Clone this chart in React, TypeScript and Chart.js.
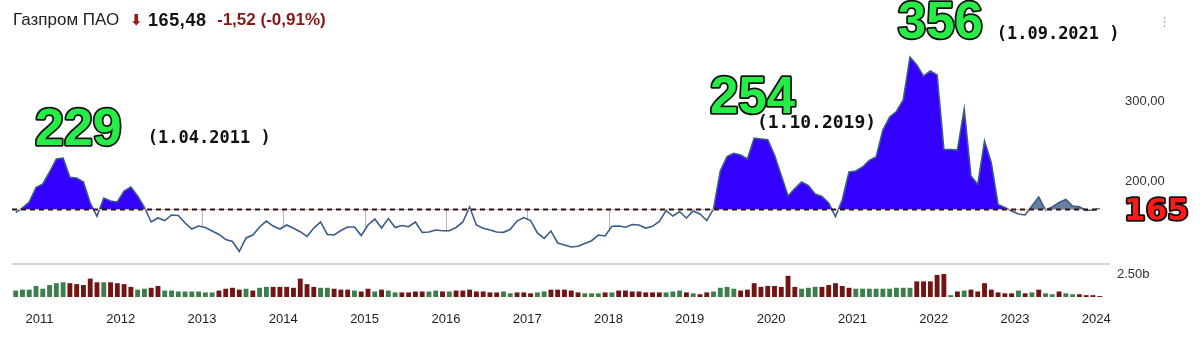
import React, { useEffect, useRef } from "react";
import { Chart, registerables } from "chart.js";

Chart.register(...registerables);

// months are counted from Jan 2011 (0); points sit mid-month; first point = Sep 2010
const FIRST_MONTH = -3.5;
const BASE_PRICE = 165;
const BLUE_LAST = 146; // last point of the hand-painted blue zone (Nov 2022)

const prices: number[] = [
  160.4, 166.5, 173.8, 192.0,
  196.4, 211.5, 227.8, 229.0, 205.0, 204.0, 199.0, 172.5, 156.0, 178.8, 175.0, 173.8,
  187.6, 192.6, 181.3, 167.0, 148.7, 153.7, 150.5, 157.5, 156.8, 147.4, 139.9, 143.6,
  141.8, 137.4, 133.0, 126.7, 124.2, 111.6, 128.6, 132.3, 142.4, 149.9, 143.6, 139.9,
  144.9, 140.8, 136.5, 130.5, 141.1, 148.7, 133.0, 132.3, 138.0, 142.4, 142.4, 131.7,
  144.9, 152.4, 141.1, 153.0, 141.8, 144.3, 142.8, 148.7, 135.5, 136.1, 138.6, 137.7,
  137.7, 141.8, 148.7, 167.5, 144.9, 140.8, 138.6, 136.1, 135.7, 139.5, 149.9, 154.3,
  150.5, 134.9, 128.2, 137.4, 122.3, 119.8, 117.3, 118.3, 121.7, 125.2, 132.3, 131.1,
  143.4, 143.6, 142.1, 145.5, 144.9, 141.1, 143.3, 149.3, 162.9, 156.2, 161.6, 153.7,
  162.5, 158.7, 150.5, 165.0, 212.7, 230.9, 235.0, 232.8, 227.8, 254.0, 253.0, 252.0,
  232.8, 207.0, 181.3, 190.7, 198.9, 194.5, 183.8, 180.7, 172.5, 155.6, 176.3, 211.5,
  212.7, 217.8, 226.2, 230.3, 264.2, 280.5, 287.5, 302.0, 356.0, 346.0, 332.0, 338.3,
  333.3, 240.0, 239.7, 239.0, 290.6, 206.4, 195.8, 250.4, 222.8, 170.7, 166.9, 162.5,
  158.7, 157.5, 168.8, 180.1, 163.7, 167.5, 173.2, 176.9, 168.8, 167.9, 163.1, 163.7,
  165.5,
];

// monthly volume, billions of shares
const volumes: number[] = [
  0.7, 0.8, 0.8, 1.2,
  0.9, 1.3, 1.5, 1.6, 1.5, 1.4, 1.3, 2.0, 1.6, 1.6, 1.6, 1.5,
  1.4, 1.1, 0.8, 0.9, 1.0, 1.2, 0.7, 0.7, 0.6, 0.6, 0.6, 0.6,
  0.5, 0.5, 0.7, 0.9, 1.0, 0.8, 0.9, 0.7, 1.0, 1.1, 1.1, 1.1,
  1.1, 1.0, 2.0, 1.4, 1.1, 1.0, 1.0, 0.9, 0.8, 0.8, 0.7, 0.6,
  0.9, 0.6, 0.8, 0.7, 0.5, 0.5, 0.5, 0.6, 0.6, 0.6, 0.7, 0.6,
  0.6, 0.7, 0.7, 0.8, 0.6, 0.6, 0.5, 0.5, 0.6, 0.4, 0.5, 0.5,
  0.4, 0.5, 0.6, 0.8, 0.8, 0.8, 0.7, 0.5, 0.4, 0.4, 0.4, 0.5,
  0.5, 0.7, 0.7, 0.6, 0.6, 0.5, 0.5, 0.5, 0.5, 0.6, 0.7, 0.5,
  0.4, 0.3, 0.5, 0.6, 1.0, 1.1, 0.9, 0.7, 0.8, 1.5, 1.1, 1.2,
  1.2, 1.1, 2.3, 1.1, 0.9, 1.0, 1.1, 1.1, 1.3, 1.5, 1.2, 1.0,
  0.9, 0.9, 0.9, 0.9, 0.9, 0.9, 1.0, 1.0, 1.0, 1.7, 1.7, 1.7,
  2.4, 2.5, 0.2, 0.6, 0.7, 0.8, 0.6, 1.5, 0.8, 0.5, 0.4, 0.4,
  0.7, 0.4, 0.5, 0.8, 0.4, 0.3, 0.6, 0.4, 0.3, 0.3, 0.2, 0.2,
  0.1,
];

// G = up month (green), R = down month (red)
const volumeDirection: string[] = (
  "GGGG" +
  "GGGGRRRRRGRR" +
  "RRGGRRGGGGGG" +
  "GGRRRRGRGGRR" +
  "RRRRRGGRRRGR" +
  "RGRGGRRRRGGR" +
  "GRRRRRRRGGRR" +
  "RGGRRRRRGGGR" +
  "GRRRRRRRGGGR" +
  "GRRGGGGRRRRR" +
  "RRRRGGGRRRRR" +
  "GGGGGGGGGRRR" +
  "RRGRGRRRRRRR" +
  "GRGRGGRGGRRR" +
  "R"
).split("");

const yearTicks: number[] = [2011, 2012, 2013, 2014, 2015, 2016, 2017, 2018, 2019, 2020, 2021, 2022, 2023, 2024];
const priceTicks: number[] = [200, 300];
const volumeTicks: number[] = [2.5];

type Note = { text: string; month: number; price: number; font: string; fill: string; stroke?: string };
const notes: Note[] = [
  { text: "229", month: -0.65, price: 245.4, font: "bold 52px 'Liberation Sans'", fill: "#26ec46", stroke: "#111" },
  { text: "(1.04.2011 )", month: 16.0, price: 247.5, font: "bold 17px 'DejaVu Sans Mono'", fill: "#111" },
  { text: "254", month: 98.98, price: 285.6, font: "bold 51px 'Liberation Sans'", fill: "#26ec46", stroke: "#111" },
  { text: "(1.10.2019)", month: 105.9, price: 267.0, font: "bold 18px 'DejaVu Sans Mono'", fill: "#111" },
  { text: "356", month: 126.7, price: 379.8, font: "bold 51px 'Liberation Sans'", fill: "#26ec46", stroke: "#111" },
  { text: "(1.09.2021 )", month: 141.3, price: 378.3, font: "bold 17px 'DejaVu Sans Mono'", fill: "#111" },
  { text: "165", month: 160.1, price: 151.2, font: "bold 31px 'DejaVu Sans'", fill: "#ff1a1a", stroke: "#111" },
];

const monthOf = (i: number) => FIRST_MONTH + i;

function priceAt(month: number): number | null {
  const f = month - FIRST_MONTH;
  const i = Math.floor(f);
  if (i < 0 || i >= prices.length - 1) return null;
  const t = f - i;
  return prices[i] * (1 - t) + prices[i + 1] * t;
}

const overlay = {
  id: "overlay",
  beforeDatasetsDraw(chart: any) {
    const { ctx, chartArea, scales } = chart;
    const x = scales.x, y = scales.y, yv = scales.yv;
    ctx.save();
    // pane separator
    const sep = Math.round(yv.getPixelForValue(3.6));
    ctx.strokeStyle = "#d3d3d3";
    ctx.lineWidth = 2;
    ctx.beginPath();
    ctx.moveTo(chartArea.left, sep);
    ctx.lineTo(chartArea.right, sep);
    ctx.stroke();
    // year grid segments between baseline and curve
    ctx.strokeStyle = "#b5b5b5";
    ctx.lineWidth = 1;
    for (const yr of yearTicks) {
      const m = (yr - 2011) * 12;
      const v = priceAt(m);
      if (v == null || v > BASE_PRICE - 4) continue;
      const px = Math.round(x.getPixelForValue(m)) + 0.5;
      ctx.beginPath();
      ctx.moveTo(px, y.getPixelForValue(BASE_PRICE));
      ctx.lineTo(px, y.getPixelForValue(v));
      ctx.stroke();
    }
    ctx.restore();
  },
  afterDatasetsDraw(chart: any) {
    const { ctx, chartArea, scales } = chart;
    const x = scales.x, y = scales.y;
    const y0 = Math.round(y.getPixelForValue(BASE_PRICE)) + 0.5;
    const x0 = chartArea.left;
    const x1 = x.getPixelForValue(monthOf(prices.length - 1));
    ctx.save();
    ctx.strokeStyle = "#f3a3a3";
    ctx.lineWidth = 1;
    ctx.beginPath();
    ctx.moveTo(x0, y0);
    ctx.lineTo(x1, y0);
    ctx.stroke();
    ctx.strokeStyle = "#1b1b1b";
    ctx.lineWidth = 2;
    ctx.setLineDash([5, 4]);
    ctx.beginPath();
    ctx.moveTo(x0, y0);
    ctx.lineTo(x1, y0);
    ctx.stroke();
    ctx.restore();
  },
  afterDraw(chart: any) {
    const { ctx, chartArea, scales } = chart;
    const x = scales.x, y = scales.y, yv = scales.yv;
    ctx.save();
    // volume axis label
    ctx.font = "13px 'Liberation Sans'";
    ctx.fillStyle = "#333";
    ctx.textAlign = "left";
    ctx.textBaseline = "middle";
    for (const v of volumeTicks) {
      ctx.fillText(v.toFixed(2) + "b", chartArea.right + 7, yv.getPixelForValue(v));
    }
    ctx.textBaseline = "alphabetic";
    ctx.lineJoin = "round";
    for (const n of notes) {
      ctx.font = n.font;
      const px = x.getPixelForValue(n.month);
      const py = y.getPixelForValue(n.price);
      if (n.stroke) {
        ctx.strokeStyle = n.stroke;
        ctx.lineWidth = 3.5;
        ctx.strokeText(n.text, px, py);
      }
      ctx.fillStyle = n.fill;
      ctx.fillText(n.text, px, py);
    }
    ctx.restore();
  },
};

export default function App() {
  const ref = useRef<HTMLCanvasElement | null>(null);

  useEffect(() => {
    if (!ref.current) return;
    Chart.defaults.font.family = "'Liberation Sans', Arial, sans-serif";
    const pts = prices.map((v, i) => ({ x: monthOf(i), y: v }));
    const chart = new Chart(ref.current, {
      type: "line",
      data: {
        datasets: [
          {
            type: "line",
            data: pts,
            borderColor: "#3b5c88",
            borderWidth: 1.6,
            pointRadius: 0,
            fill: false,
            tension: 0,
            order: 0,
          } as any,
          {
            type: "line",
            data: prices.map((v, i) => ({ x: monthOf(i), y: i <= BLUE_LAST ? v : null })),
            borderColor: "rgba(0,0,0,0)",
            borderWidth: 0,
            pointRadius: 0,
            tension: 0,
            fill: { target: { value: BASE_PRICE }, above: "#3300ff", below: "rgba(0,0,0,0)" },
            order: 1,
          } as any,
          {
            type: "line",
            data: prices.map((v, i) => ({ x: monthOf(i), y: i >= BLUE_LAST ? v : null })),
            borderColor: "rgba(0,0,0,0)",
            borderWidth: 0,
            pointRadius: 0,
            tension: 0,
            fill: { target: { value: BASE_PRICE }, above: "#66809e", below: "rgba(0,0,0,0)" },
            order: 2,
          } as any,
          {
            type: "bar",
            yAxisID: "yv",
            data: volumes.map((v, i) => ({ x: monthOf(i), y: v })),
            backgroundColor: volumeDirection.map((d) => (d === "G" ? "#3c7f4c" : "#731414")),
            borderWidth: 0,
            barPercentage: 0.72,
            categoryPercentage: 1,
            order: 3,
          } as any,
        ],
      },
      options: {
        animation: false,
        responsive: false,
        maintainAspectRatio: false,
        events: [],
        layout: { padding: { left: 12, top: 30, right: 0, bottom: 0 } },
        plugins: { legend: { display: false }, tooltip: { enabled: false } },
        scales: {
          x: {
            type: "linear",
            offset: false,
            min: -4.044,
            max: 158.02,
            grid: { display: false, offset: false },
            border: { display: false },
            afterBuildTicks: (s: any) => {
              s.ticks = yearTicks.map((yr) => ({ value: (yr - 2011) * 12 }));
            },
            afterFit: (s: any) => {
              s.height = 46;
            },
            ticks: {
              autoSkip: false,
              maxRotation: 0,
              padding: 7,
              color: "#1e1e1e",
              font: { size: 13 },
              callback: (v: any) => String(2011 + Math.round(Number(v) / 12)),
            },
          },
          y: {
            type: "linear",
            position: "right",
            min: 54.45,
            max: 389.9,
            grid: { display: false },
            border: { display: false },
            afterBuildTicks: (s: any) => {
              s.ticks = priceTicks.map((v) => ({ value: v }));
            },
            afterFit: (s: any) => {
              s.width = 90;
            },
            ticks: {
              padding: 7,
              color: "#333",
              font: { size: 13 },
              callback: (v: any) => Number(v).toFixed(2).replace(".", ","),
            },
          },
          yv: {
            type: "linear",
            position: "left",
            display: false,
            min: 0,
            max: 29.02,
          },
        },
      } as any,
      plugins: [overlay],
    });
    return () => chart.destroy();
  }, []);

  const head: React.CSSProperties = {
    position: "absolute",
    top: 10,
    lineHeight: "20px",
    whiteSpace: "nowrap",
    fontFamily: "'Liberation Sans', Arial, sans-serif",
  };

  return (
    <div style={{ position: "fixed", left: 0, top: 0, width: 1200, height: 343, background: "#fff", overflow: "hidden" }}>
      <canvas ref={ref} width={1200} height={343} style={{ position: "absolute", left: 0, top: 0, width: 1200, height: 343 }} />
      <span style={{ ...head, left: 13, fontSize: 17, color: "#222" }}>Газпром ПАО</span>
      <span style={{ ...head, left: 130, fontSize: 15, fontWeight: "bold", color: "#9b1a1a", fontFamily: "'DejaVu Sans'", top: 10 }}>⬇</span>
      <span style={{ ...head, left: 148, fontSize: 18, fontWeight: "bold", color: "#111", letterSpacing: 0.6 }}>165,48</span>
      <span style={{ ...head, left: 217, fontSize: 17, fontWeight: "bold", color: "#8a1515" }}>-1,52 (-0,91%)</span>
      <span style={{ ...head, left: 1158, top: 12, fontSize: 13, color: "#9a9a9a", fontFamily: "'DejaVu Sans'" }}>⋮</span>
    </div>
  );
}
